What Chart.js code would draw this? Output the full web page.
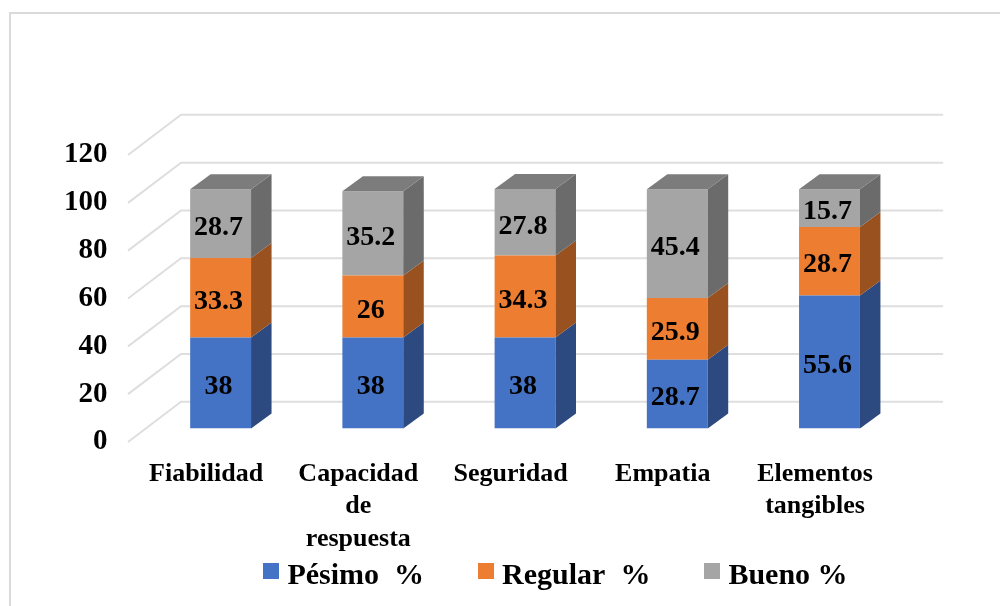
<!DOCTYPE html>
<html lang="es">
<head>
<meta charset="utf-8">
<style>
html,body{margin:0;padding:0;background:#fff;overflow:hidden}
canvas{display:block}
</style>
<script src="https://cdn.jsdelivr.net/npm/chart.js@4"></script>
</head>
<body>
<canvas id="c" width="1000" height="606" style="width:1000px;height:606px"></canvas>
<script>
const categories = [["Fiabilidad"], ["Capacidad", "de", "respuesta"], ["Seguridad"], ["Empatia"], ["Elementos", "tangibles"]];
const pesimo = [38, 38, 38, 28.7, 55.6];
const regular = [33.3, 26, 34.3, 25.9, 28.7];
const bueno = [28.7, 35.2, 27.8, 45.4, 15.7];
const seriesNames = ["Pésimo  %", "Regular  %", "Bueno %"];
const seriesColors = ["#4472C4", "#ED7D31", "#A5A5A5"];
const sideColors = ["#2C4A7F", "#9A5120", "#6B6B6B"];
const topColor = "#7C7C7C";
const gridColor = "#DEDEDE";
const serif = "'Liberation Serif', 'Times New Roman', serif";

function swatch(color) {
  const s = document.createElement("canvas");
  s.width = 16; s.height = 26;
  const g = s.getContext("2d");
  g.fillStyle = color; g.fillRect(0, 0, 16, 16);
  return s;
}
const swatches = seriesColors.map(swatch);

const frame3d = {
  id: "frame3d",
  beforeLayout(chart) {
    const l = chart.legend;
    if (!l._fitPatched) {
      const fit = l.fit;
      l.fit = function () { fit.call(this); this.height = 0; };
      l._fitPatched = true;
    }
  },
  beforeDraw(chart) {
    const c = chart.ctx;
    c.save();
    c.strokeStyle = "#DADADA"; c.lineWidth = 2;
    c.beginPath(); c.moveTo(10, 606); c.lineTo(10, 13); c.lineTo(1000, 13); c.stroke();
    c.restore();
  },
  afterLayout(chart) {
    const l = chart.legend;
    l.left = 118; l.right = 1000; l.top = 500; l.bottom = 606;
  },
  beforeDatasetsDraw(chart) {
    const c = chart.ctx, y = chart.scales.y, a = chart.chartArea;
    c.save();
    c.strokeStyle = gridColor; c.lineWidth = 2;
    y.ticks.forEach(t => {
      const py = y.getPixelForValue(t.value);
      c.beginPath();
      c.moveTo(a.left - 16.5, py + 13.5);
      c.lineTo(a.left + 36.5, py - 26.7);
      c.lineTo(a.right + 37.5, py - 26.7);
      c.stroke();
    });
    c.restore();
  },
  afterDatasetsDraw(chart) {
    const c = chart.ctx, dx = 20.5, dy = 15;
    c.save();
    chart.data.datasets.forEach((ds, i) => {
      chart.getDatasetMeta(i).data.forEach((bar, j) => {
        const p = bar.getProps(["x", "y", "base", "width"], true);
        const L = p.x - p.width / 2, R = p.x + p.width / 2;
        c.fillStyle = sideColors[i];
        c.beginPath();
        c.moveTo(R, p.y); c.lineTo(R + dx, p.y - dy); c.lineTo(R + dx, p.base - dy); c.lineTo(R, p.base);
        c.closePath(); c.fill();
        if (i === chart.data.datasets.length - 1) {
          c.fillStyle = topColor;
          c.beginPath();
          c.moveTo(L, p.y); c.lineTo(L + dx, p.y - dy); c.lineTo(R + dx, p.y - dy); c.lineTo(R, p.y);
          c.closePath(); c.fill();
        }
        c.fillStyle = "#000";
        c.font = "bold 28px " + serif;
        c.textAlign = "center"; c.textBaseline = "middle";
        c.fillText(String(ds.data[j]), p.x - 2, (p.y + p.base) / 2 + 4);
      });
    });
    c.restore();
  }
};

new Chart(document.getElementById("c"), {
  type: "bar",
  data: {
    labels: categories,
    datasets: [pesimo, regular, bueno].map((d, i) => ({
      label: seriesNames[i], data: d, backgroundColor: seriesColors[i],
      borderWidth: 0, barPercentage: 0.4, categoryPercentage: 1
    }))
  },
  plugins: [frame3d],
  options: {
    responsive: false, animation: false,
    layout: { padding: { left: 0, right: 94.4, top: 141.5, bottom: 0 } },
    plugins: {
      tooltip: { enabled: false },
      legend: {
        position: "bottom",
        labels: {
          usePointStyle: true, boxWidth: 2, boxHeight: 16, padding: 61, color: "#000",
          font: { family: serif, weight: "bold", size: 30 },
          generateLabels: chart => chart.data.datasets.map((ds, i) => ({
            text: ds.label, pointStyle: swatches[i], fillStyle: seriesColors[i],
            lineWidth: 0, strokeStyle: "transparent", datasetIndex: i, hidden: false
          }))
        }
      }
    },
    scales: {
      x: {
        stacked: true,
        grid: { display: false, drawTicks: false }, border: { display: false },
        afterFit: s => { s.height = 606 - 428.5; },
        ticks: {
          maxRotation: 0, minRotation: 0, autoSkip: false, padding: 29.5, labelOffset: -14.5,
          color: "#000", font: { family: serif, weight: "bold", size: 26, lineHeight: 1.25 }
        }
      },
      y: {
        stacked: true, min: 0, max: 120,
        grid: { display: false, drawTicks: false }, border: { display: false },
        afterFit: s => { s.width = 144.5; },
        ticks: {
          stepSize: 20, padding: 37, labelOffset: 13.5, color: "#000",
          font: { family: serif, weight: "bold", size: 29 }
        }
      }
    }
  }
});
</script>
</body>
</html>
